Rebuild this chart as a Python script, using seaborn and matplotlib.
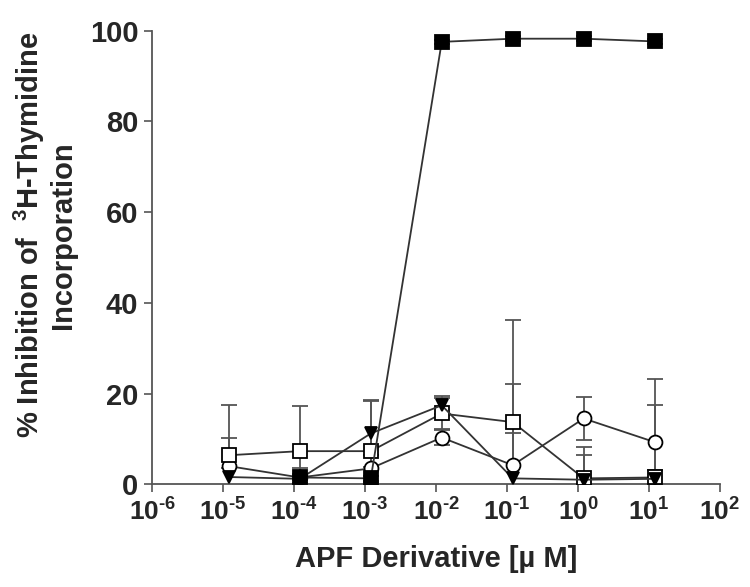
import numpy as np
import pandas as pd
import seaborn as sns
import matplotlib.pyplot as plt

# concentrations (uM), points sit slightly right of each decade tick
conc = [1.2e-5, 1.2e-4, 1.2e-3, 1.2e-2, 1.2e-1, 1.2e0, 1.2e1]

filled_sq = [np.nan, 1.5, 1.3, 97.5, 98.2, 98.2, 97.6]
filled_sq_err = [0, 0.5, 0.5, 0.5, 0.5, 0.5, 0.5]
open_sq = [6.4, 7.3, 7.3, 15.6, 13.7, 1.3, 1.5]
open_sq_err = [11, 10, 11, 3.5, 22.5, 6.9, 16]
open_circ = [4.0, 1.5, 3.5, 10.3, 4.2, 14.5, 9.3]
open_circ_err = [6.3, 2, 3, 1.7, 18, 4.8, 14]
filled_tri = [1.6, 1.2, 11.2, 17.4, 1.3, 1.0, 1.2]
filled_tri_err = [2, 1, 7.3, 2, 10, 5.5, 2]

xtick_pos = [1e-6, 1e-5, 1e-4, 1e-3, 1e-2, 1e-1, 1e0, 1e1, 1e2]
xtick_exp = ['-6', '-5', '-4', '-3', '-2', '-1', '0', '1', '2']

sns.set_theme(style='ticks')
plt.rcParams['font.family'] = ['Liberation Sans', 'DejaVu Sans']
plt.rcParams['font.weight'] = 'bold'
plt.rcParams['mathtext.fontset'] = 'custom'
plt.rcParams['mathtext.rm'] = 'Liberation Sans:bold'
plt.rcParams['mathtext.it'] = 'Liberation Sans:bold'
plt.rcParams['mathtext.bf'] = 'Liberation Sans:bold'

fig = plt.figure(figsize=(7.5, 5.87), dpi=100)
ax = fig.add_axes([0.203, 0.175, 0.757, 0.773])

series = [
    (open_circ, open_circ_err, 'o', 'white'),
    (open_sq, open_sq_err, 's', 'white'),
    (filled_tri, filled_tri_err, 'v', 'black'),
    (filled_sq, filled_sq_err, 's', 'black'),
]

for vals, errs, mk, face in series:
    df = pd.DataFrame({'conc': conc, 'val': vals, 'err': errs}).dropna()
    ax.errorbar(df['conc'], df['val'], yerr=df['err'], fmt='none',
                ecolor='#555555', elinewidth=1.3, capsize=6, capthick=1.3, zorder=2)
    sns.lineplot(data=df, x='conc', y='val', ax=ax, color='#333333', linewidth=1.3,
                 marker=mk, markersize=10 if mk != 'v' else 9, markerfacecolor=face,
                 markeredgecolor='black', markeredgewidth=1.3, zorder=3)

ax.set_xscale('log')
ax.set_xlim(1e-6, 1e2)
ax.set_ylim(0, 100)
ax.set_xticks(xtick_pos)
ax.set_xticklabels([r'$10^{\text{%s}}$' % e for e in xtick_exp])
ax.minorticks_off()
ax.set_yticks([0, 20, 40, 60, 80, 100])
ax.tick_params(length=6, width=1.2, color='#555555', pad=4)
ax.tick_params(axis='x', labelsize=19)
ax.tick_params(axis='y', labelsize=21)
for lbl in ax.get_yticklabels():
    lbl.set_fontweight('bold')

sns.despine(ax=ax)
for s in ['left', 'bottom']:
    ax.spines[s].set_color('#555555')
    ax.spines[s].set_linewidth(1.3)
ax.spines['bottom'].set_zorder(1)

ax.set_xlabel('APF Derivative [\u00b5 M]', fontsize=21, fontweight='bold', labelpad=14)
ax.set_ylabel('% Inhibition of  $^{3}$H-Thymidine\nIncorporation', fontsize=21,
              fontweight='bold', linespacing=1.1)
ax.yaxis.set_label_coords(-0.132, 0.549)

fig.savefig('out.png', dpi=100)
